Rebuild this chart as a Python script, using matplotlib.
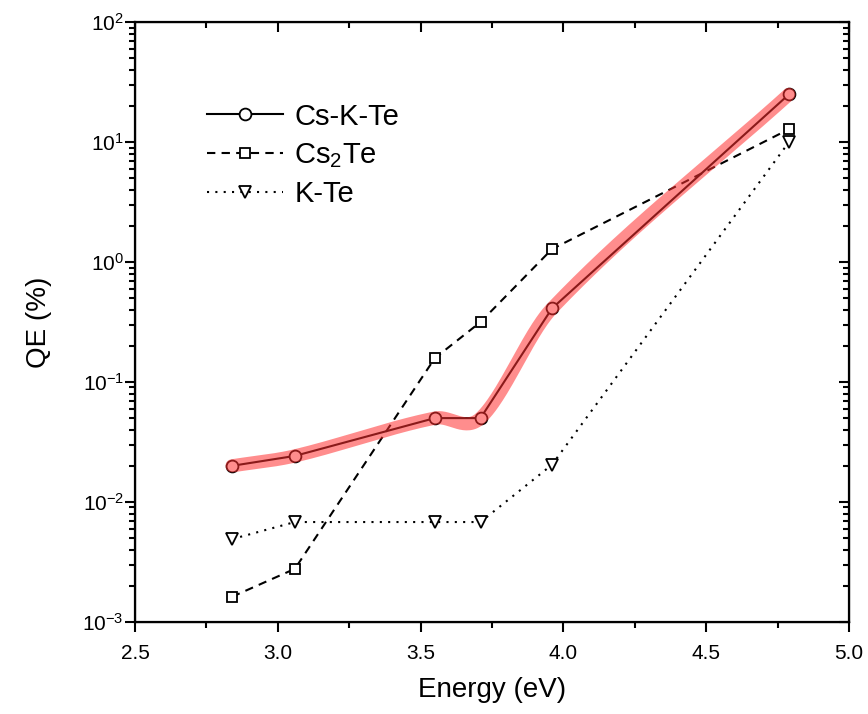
import numpy as np
import matplotlib
matplotlib.use('Agg')
import matplotlib.pyplot as plt

plt.rcParams['font.family'] = ['Liberation Sans', 'DejaVu Sans']
plt.rcParams['mathtext.fontset'] = 'custom'
plt.rcParams['mathtext.rm'] = 'Liberation Sans'
plt.rcParams['mathtext.it'] = 'Liberation Sans:italic'
plt.rcParams['mathtext.bf'] = 'Liberation Sans:bold'
plt.rcParams['mathtext.default'] = 'regular'

# data
energy_cskte = [2.84, 3.06, 3.55, 3.71, 3.96, 4.79]
qe_cskte = [0.020, 0.0242, 0.050, 0.050, 0.41, 25.0]
energy_cs2te = [2.84, 3.06, 3.55, 3.71, 3.96, 4.79]
qe_cs2te = [0.00162, 0.00277, 0.158, 0.316, 1.28, 12.8]
energy_kte = [2.84, 3.06, 3.55, 3.71, 3.96, 4.79]
qe_kte = [0.0049, 0.0068, 0.0068, 0.0068, 0.0204, 10.0]


def hermite_curve(x, y, xs):
    # cubic hermite with finite-difference (catmull-rom like) tangents
    x = np.asarray(x, float); y = np.asarray(y, float)
    n = len(x)
    m = np.zeros(n)
    m[0] = (y[1] - y[0]) / (x[1] - x[0])
    m[-1] = (y[-1] - y[-2]) / (x[-1] - x[-2])
    for i in range(1, n - 1):
        m[i] = (y[i + 1] - y[i - 1]) / (x[i + 1] - x[i - 1])
    out = np.empty_like(xs)
    for k, xv in enumerate(xs):
        i = min(max(np.searchsorted(x, xv) - 1, 0), n - 2)
        h = x[i + 1] - x[i]
        t = (xv - x[i]) / h
        h00 = 2 * t**3 - 3 * t**2 + 1
        h10 = t**3 - 2 * t**2 + t
        h01 = -2 * t**3 + 3 * t**2
        h11 = t**3 - t**2
        out[k] = h00 * y[i] + h10 * h * m[i] + h01 * y[i + 1] + h11 * h * m[i + 1]
    return out


fig = plt.figure(figsize=(8.68, 7.14), dpi=100)
ax = fig.add_axes([0.1555, 0.129, 0.8225, 0.840])

ax.plot(energy_cskte, qe_cskte, color='black', lw=1.5, marker='o', ms=8.5,
        mfc='white', mec='black', mew=1.3, label='Cs-K-Te', zorder=3)
ax.plot(energy_cs2te, qe_cs2te, color='black', lw=1.5, ls=(0, (4, 3)), marker='s', ms=7,
        mfc='white', mec='black', mew=1.3, label='Cs$_2$Te', zorder=3)
ax.plot(energy_kte, qe_kte, color='black', lw=1.5, ls=(0, (1, 3)), marker='v', ms=8.5,
        mfc='white', mec='black', mew=1.3, label='K-Te', zorder=3)

# red highlight along Cs-K-Te
xs = np.linspace(energy_cskte[0], energy_cskte[-1], 400)
ys = 10 ** hermite_curve(energy_cskte, np.log10(qe_cskte), xs)
ax.plot(xs, ys, color='#ff3030', alpha=0.55, lw=9.5, solid_capstyle='round', zorder=4)

ax.set_yscale('log')
ax.set_xlim(2.5, 5.0)
ax.set_ylim(1e-3, 1e2)
ax.set_xticks([2.5, 3.0, 3.5, 4.0, 4.5, 5.0])
ax.set_xticklabels(['2.5', '3.0', '3.5', '4.0', '4.5', '5.0'])
ax.set_xticks([2.75, 3.25, 3.75, 4.25, 4.75], minor=True)
ax.tick_params(axis='both', which='both', direction='out', top=False, right=False,
               width=1.5, labelsize=15)
ax.tick_params(which='major', length=7)
ax.tick_params(which='minor', length=4)
ax.tick_params(axis='x', pad=9)
ax.tick_params(axis='y', pad=1)
for s in ax.spines.values():
    s.set_linewidth(1.6)

ax2 = ax.twinx()
ax2.set_yscale('log')
ax2.set_ylim(1e-3, 1e2)
ax2.tick_params(axis='y', which='both', direction='in', labelright=False, width=1.5)
ax2.tick_params(which='major', length=7)
ax2.tick_params(which='minor', length=4)
ax3 = ax.twiny()
ax3.set_xlim(2.5, 5.0)
ax3.set_xticks([2.5, 3.0, 3.5, 4.0, 4.5, 5.0])
ax3.set_xticks([2.75, 3.25, 3.75, 4.25, 4.75], minor=True)
ax3.tick_params(axis='x', which='both', direction='in', labeltop=False, width=1.5)
ax3.tick_params(which='major', length=7)
ax3.tick_params(which='minor', length=4)

ax.set_xlabel('Energy (eV)', fontsize=20, labelpad=10)
ax.set_ylabel('QE (%)', fontsize=20, labelpad=22)

ax.legend(loc='upper left', bbox_to_anchor=(0.08, 0.89), frameon=False, fontsize=21,
          handlelength=2.6, handletextpad=0.4, labelspacing=0.35, borderpad=0)

fig.savefig('out.png', dpi=100)
